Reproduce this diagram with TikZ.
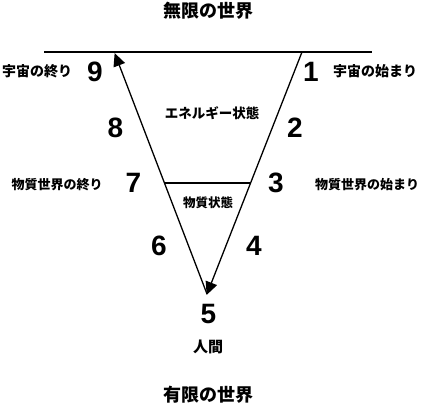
\documentclass[tikz,border=0pt]{standalone}
\usepackage{fontspec}
\newfontfamily\jp{Noto Sans CJK JP}
\newfontfamily\numf{Liberation Sans}
\usetikzlibrary{arrows.meta}
\tikzset{
  ln/.style={line width=1.3pt, black},
  arr/.style={ln, -{Triangle[length=13pt,width=12pt]}, shorten >=-1pt},
  num/.style={inner sep=0pt, font=\numf\bfseries\fontsize{28}{28}\selectfont},
  jlab/.style={inner sep=0pt, font=\jp\bfseries\fontsize{#1}{#1}\selectfont},
  jlab/.default=13
}
\begin{document}
\begin{tikzpicture}[x=1pt,y=-1pt]
\useasboundingbox (0,0) rectangle (422,404);
% geometry
\coordinate (TL) at (44,52);
\coordinate (TR) at (372,52);
\coordinate (R) at (302,52);
\coordinate (A) at (207,294);
\coordinate (L) at (115,54);
\coordinate (HL) at (164.5,183);
\coordinate (HR) at (250.8,183);
\draw[ln] (TL) -- (TR);
\draw[ln] (HL) -- (HR);
\draw[arr] (R) -- (A);
\draw[arr] (A) -- (L);
% titles
\node[jlab=18] (top) at (208,11) {無限の世界};
\node[jlab=18] (bottom) at (208,395) {有限の世界};
\node[jlab=15] (human) at (208,347) {人間};
% inner labels
\node[jlab=13.5] (energy) at (212,113) {エネルギー状態};
\node[jlab=12.5] (matter) at (208,203) {物質状態};
% side labels
\node[jlab=14] (uend) at (37,71) {宇宙の終り};
\node[jlab=14] (ustart) at (375,71) {宇宙の始まり};
\node[jlab=13] (mend) at (57,185) {物質世界の終り};
\node[jlab=13] (mstart) at (367,185) {物質世界の始まり};
% numbers
\node[num] (n1) at (311,72) {1};
\node[num] (n2) at (295,128) {2};
\node[num] (n3) at (276,183) {3};
\node[num] (n4) at (254,246) {4};
\node[num] (n5) at (208.5,313.5) {5};
\node[num] (n6) at (159,246) {6};
\node[num] (n7) at (133.5,183) {7};
\node[num] (n8) at (115.5,128) {8};
\node[num] (n9) at (95,72) {9};
\end{tikzpicture}
\end{document}
